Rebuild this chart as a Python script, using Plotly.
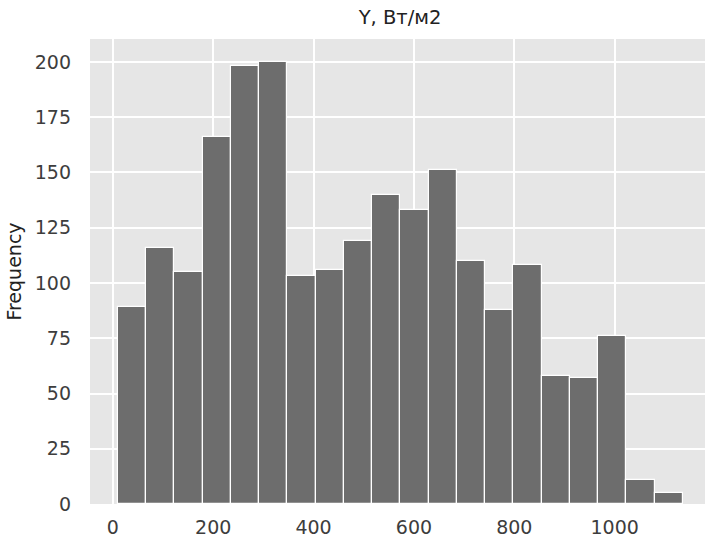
import plotly.graph_objects as go

# Histogram of Y, W/m2 — 20 bins
bin_start = 9.8
bin_width = 56.3
counts = [89, 116, 105, 166, 198, 200, 103, 106, 119, 140,
          133, 151, 110, 88, 108, 58, 57, 76, 11, 5]
x_ticks = [0, 200, 400, 600, 800, 1000]
y_ticks = [0, 25, 50, 75, 100, 125, 150, 175, 200]

centers = [bin_start + bin_width * (i + 0.5) for i in range(len(counts))]

fig = go.Figure(go.Bar(
    x=centers, y=counts, width=[bin_width] * len(counts),
    marker=dict(color="#6d6d6d", line=dict(color="white", width=1.2)),
    hoverinfo="x+y",
))

font = "DejaVu Sans"
fig.update_layout(
    width=705, height=541,
    margin=dict(l=90, r=0, t=39, b=37),
    paper_bgcolor="white", plot_bgcolor="#E6E6E6",
    showlegend=False, bargap=0,
    title=dict(text="Y, Вт/м2", x=400 / 705, xanchor="center", xref="container",
               y=1 - 17 / 541, yanchor="middle", yref="container",
               font=dict(family=font, size=19.5, color="#222222")),
    font=dict(family=font, size=19, color="#3d3d3d"),
)
fig.update_xaxes(range=[-45.5, 1180], tickvals=x_ticks, showgrid=True,
                 gridcolor="white", gridwidth=1.6, zeroline=False,
                 ticks="", ticklabelstandoff=10,
                 tickfont=dict(family=font, size=19, color="#3d3d3d"))
fig.update_yaxes(range=[0, 210.4], tickvals=y_ticks, showgrid=True,
                 gridcolor="white", gridwidth=1.6, zeroline=False,
                 ticks="", ticklabelstandoff=18,
                 title=dict(text="Frequency", standoff=8,
                            font=dict(family=font, size=19, color="#222222")),
                 tickfont=dict(family=font, size=19, color="#3d3d3d"))

fig.write_html("out.html")
